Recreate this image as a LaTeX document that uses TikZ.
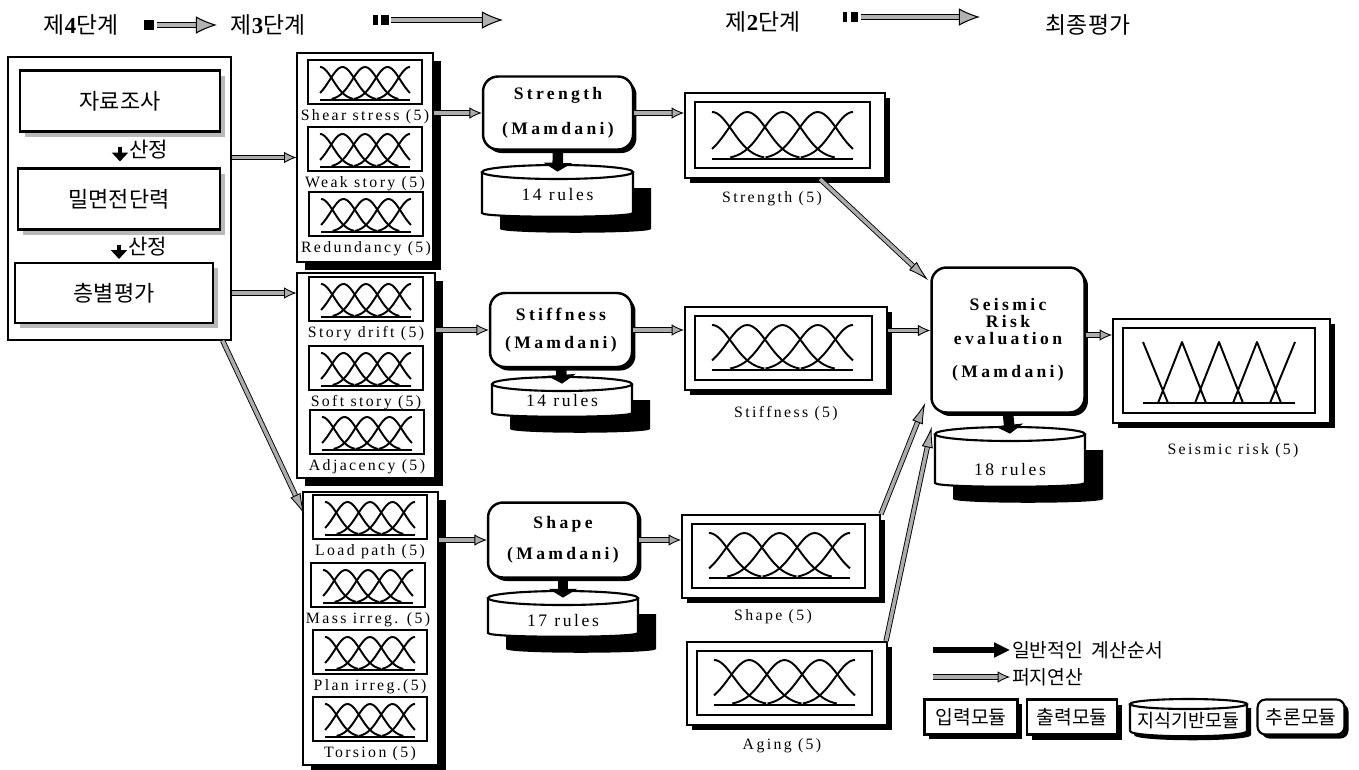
\documentclass[tikz,border=0pt]{standalone}
\usepackage{fontspec}
\setmainfont{Liberation Serif}
\newfontfamily\kr{Noto Sans CJK KR}
\newfontfamily\spaced[LetterSpace=15]{Liberation Serif}
\newfontfamily\spacedbf[LetterSpace=19]{Liberation Serif}
\usetikzlibrary{arrows.meta, positioning, fit, shadows}

% five bell-shaped membership functions with a base line
\newcommand{\bells}[4]{%
  \pgfmathsetmacro{\mfl}{#1}%
  \pgfmathsetmacro{\mfr}{#2}%
  \pgfmathsetmacro{\mft}{#3}%
  \pgfmathsetmacro{\mfb}{#4}%
  \pgfmathsetmacro{\mfw}{(\mfr-\mfl)/4}%
  \pgfmathsetmacro{\mfs}{0.57*\mfw}%
  \draw[curve] (\mfl,\mfb) -- (\mfr,\mfb);
  \foreach \k in {0,...,4}{%
    \pgfmathsetmacro{\mfc}{\mfl+\k*\mfw}%
    \pgfmathsetmacro{\mflo}{max(\mfl,\mfc-2.6*\mfs)}%
    \pgfmathsetmacro{\mfhi}{min(\mfr,\mfc+2.6*\mfs)}%
    \draw[curve] plot[domain=\mflo:\mfhi, samples=31, smooth]
      (\x, {\mfb-(\mfb-\mft)*exp(-0.5*(\x-\mfc)*(\x-\mfc)/(\mfs*\mfs))});
  }%
}

% small input panel of stage 3 with its label
\newcommand{\minipanel}[4]{%
  \node[mini] (#1) at (#2,#3) {};
  \bells{#2-45}{#2+45}{#3-15}{#3+18}
  \node[lbl, below=1.5pt of #1] (#1l) {#4};
}

% output panel with inner frame
\newcommand{\outpanel}[5]{%
  \node[outframe, fit={(#2,#3) (#4,#5)}] (#1) {};
  \draw[line width=0.8pt] (#2+10,#3+9) rectangle (#4-15,#5-10);
}

% rule base drawn as a drum
\newcommand{\rulebase}[7]{%
  \pgfmathsetmacro{\rbm}{(#2+#3)/2}%
  \pgfmathsetmacro{\rbr}{(#3-#2)/2}%
  \fill[black, shift={(18,16)}] (#2,#4) -- (#2,#5) .. controls (#2,#5+5) and (#3,#5+5) .. (#3,#5) -- (#3,#4) -- cycle;
  \filldraw[fill=white, line width=1.2pt] (#2,#4) -- (#2,#5) .. controls (#2,#5+5) and (#3,#5+5) .. (#3,#5) -- (#3,#4);
  \draw[line width=1.2pt, fill=white] (\rbm,#4) ellipse [x radius=\rbr, y radius=7];
  \node[inner sep=0pt, fit={(#2,#4-7) (#3,#5)}] (#1) {};
  \node[rulefont] (#1t) at (\rbm,#7) {#6};
}

\begin{document}
\begin{tikzpicture}[
    x=0.02cm, y=-0.02cm,
    korean/.style={font=\kr\fontsize{12.5}{15}\selectfont},
    stage/.style={font=\kr\fontsize{13}{15}\selectfont, inner sep=0pt},
    stepbox/.style={draw, line width=1.2pt, fill=white, inner sep=0pt, minimum height=1.22cm, korean,
      drop shadow={shadow xshift=0.1cm, shadow yshift=-0.1cm, fill=gray!55, opacity=1}},
    stageframe/.style={draw, line width=0.7pt, inner sep=0pt},
    group/.style={stageframe, fill=white,
      drop shadow={shadow xshift=0.16cm, shadow yshift=-0.16cm, fill=black, opacity=1}},
    mini/.style={draw, line width=1.1pt, fill=white, minimum width=2.28cm, minimum height=0.88cm, inner sep=0pt},
    lbl/.style={font=\spaced\fontsize{9}{10}\selectfont, inner sep=1pt},
    engine/.style={draw, line width=1.4pt, rounded corners=0.3cm, fill=white, align=center, inner sep=0pt,
      font=\spacedbf\bfseries\fontsize{10}{12}\selectfont,
      drop shadow={shadow xshift=0.07cm, shadow yshift=-0.07cm, fill=black, opacity=1}},
    rulefont/.style={font=\spaced\fontsize{10}{12}\selectfont, inner sep=0pt},
    outframe/.style={draw, line width=1.2pt, fill=white, inner sep=0pt,
      drop shadow={shadow xshift=0.1cm, shadow yshift=-0.1cm, fill=black, opacity=1}},
    curve/.style={line width=1.1pt, line join=round},
    fuzzy/.style={draw=black, line width=0.5pt, double=gray!65, double distance=2pt,
      -{Latex[length=7pt,width=6.5pt,fill=gray!65]}},
    fuzzylong/.style={fuzzy, -{Latex[length=12pt,width=6.5pt,fill=gray!65]}},
    headarrow/.style={draw=black, line width=0.6pt, double=gray!60, double distance=2.6pt,
      -{Latex[length=12pt,width=10pt,fill=gray!60]}},
    flow/.style={line width=6pt, -{Triangle[length=5pt,width=16pt]}},
    downstep/.style={line width=2.8pt, -{Triangle[length=5pt,width=9pt]}},
    legflow/.style={line width=3.5pt, -{Triangle[length=9pt,width=8pt]}},
    legend/.style={font=\kr\fontsize{11}{13}\selectfont, inner sep=1pt},
    legbox/.style={draw, line width=1.2pt, fill=white, minimum height=0.7cm, inner sep=0pt, legend,
      drop shadow={shadow xshift=0.08cm, shadow yshift=-0.08cm, fill=black, opacity=1}}
]
\useasboundingbox (0,0) rectangle (1359,769);

% Stage headings
\node[stage] (h4) at (81,25) {제{\rmfamily\bfseries 4}단계};
\node[stage] (h3) at (268,25) {제{\rmfamily\bfseries 3}단계};
\node[stage] (h2) at (763,22) {제{\rmfamily\bfseries 2}단계};
\node[stage] (hf) at (1088,25) {최종평가};

\coordinate (a1s) at (157,25); \coordinate (a1e) at (217,25);
\coordinate (a2s) at (391,20); \coordinate (a2e) at (503,20);
\coordinate (a3s) at (861,17); \coordinate (a3e) at (980,17);
\fill (144,20) rectangle (154,30);
\fill (373,15) rectangle (378,25);
\fill (381,15) rectangle (389,25);
\fill (843,12) rectangle (847,22);
\fill (851,12) rectangle (858,22);
\draw[headarrow] (a1s) -- (a1e);
\draw[headarrow] (a2s) -- (a2e);
\draw[headarrow] (a3s) -- (a3e);

% Stage 4
\node[stageframe, fit={(8,57) (231,340)}] (L) {};
\node[stepbox, minimum width=4cm] (B1) at (120,101) {자료조사};
\node[stepbox, minimum width=4.04cm] (B2) at (119,199) {밀면전단력};
\node[stepbox, minimum width=3.96cm, minimum height=1.2cm] (B3) at (114,293) {층별평가};
\draw[downstep, shorten <=0.28cm, shorten >=0.12cm] (B1.south) -- (B1.south |- B2.north)
  node[midway, right=0.14cm, inner sep=0pt, font=\kr\fontsize{12}{14}\selectfont] (s1) {산정};
\draw[downstep, shorten <=0.28cm, shorten >=0.06cm] (B2.south) -- (B2.south |- B3.north)
  node[midway, right=0.14cm, inner sep=0pt, font=\kr\fontsize{12}{14}\selectfont] (s2) {산정};

% Stage 3 inputs
\node[group, fit={(297,53) (433,262)}] (G1) {};
\node[group, fit={(297,273) (435,478)}] (G2) {};
\node[group, fit={(303,492) (438,765)}] (G3) {};

\minipanel{shear}{365}{82}{Shear stress (5)}
\minipanel{weak}{365}{149}{Weak story (5)}
\minipanel{redund}{366}{214}{Redundancy (5)}
\minipanel{drift}{366}{299}{Story drift (5)}
\minipanel{soft}{366}{368}{Soft story (5)}
\minipanel{adjac}{367}{432}{Adjacency (5)}
\minipanel{loadp}{370}{517}{Load path (5)}
\minipanel{massi}{368}{585}{Mass irreg. (5)}
\minipanel{plani}{370}{652}{Plan irreg.(5)}
\minipanel{tors}{370}{719}{Torsion (5)}

\draw[fuzzy] (L.east |- G1.west) -- (G1.west);
\draw[fuzzy] (L.east |- B3.east) -- (G2.west |- B3.east);
\draw[fuzzylong] ([xshift=-0.18cm]L.south east) -- ([shift={(2,23)}]G3.north west);

% Inference engines and rule bases
\node[engine, minimum width=3cm, minimum height=1.46cm] (M1) at (558,113) {Strength\\[8pt](Mamdani)};
\node[engine, minimum width=2.84cm, minimum height=1.48cm] (M2) at (561,330) {Stiffness\\[4pt](Mamdani)};
\node[engine, minimum width=3cm, minimum height=1.5cm] (M3) at (563,540) {Shape\\[5.5pt](Mamdani)};

\rulebase{R1}{482}{633}{172}{213}{14 rules}{194}
\rulebase{R2}{492}{632}{384}{413}{14 rules}{400}
\rulebase{R3}{488}{638}{598}{633}{17 rules}{620}

\draw[flow] (M1.south) -- ([yshift=-0.14cm]R1.north);
\draw[flow] (M2.south) -- ([yshift=-0.14cm]R2.north);
\draw[flow] (M3.south) -- ([yshift=-0.14cm]R3.north);

\draw[fuzzy] (G1.east |- M1.west) -- (M1.west);
\draw[fuzzy] (G2.east |- M2.west) -- (M2.west);
\draw[fuzzy] (G3.east |- M3.west) -- (M3.west);

% Stage 2 outputs
\outpanel{S5}{685}{93}{885}{178}
\bells{712}{853}{112}{159}
\outpanel{T5}{685}{307}{887}{390}
\bells{712}{853}{325}{370}
\outpanel{P5}{682}{515}{880}{598}
\bells{709}{850}{533}{578}
\outpanel{A5}{687}{642}{887}{725}
\bells{714}{855}{660}{705}

\node[lbl, below=5.7pt of S5, xshift=-0.26cm] (S5l) {Strength (5)};
\node[lbl, below=7.4pt of T5] (T5l) {Stiffness (5)};
\node[lbl, below=4.5pt of P5, xshift=-0.16cm] (P5l) {Shape (5)};
\node[lbl, below=6pt of A5, xshift=-0.1cm] (A5l) {Aging (5)};

\draw[fuzzy] (M1.east) -- (M1.east -| S5.west);
\draw[fuzzy] (M2.east) -- (M2.east -| T5.west);
\draw[fuzzy] (M3.east) -- (M3.east -| P5.west);

% Final evaluation
\node[engine, minimum width=3.06cm, minimum height=2.9cm, font=\spacedbf\bfseries\fontsize{10}{9.6}\selectfont] (MS) at (1008,340)
  {Seismic\\Risk\\evaluation\\[9.6pt](Mamdani)};
\rulebase{RS}{935}{1085}{434}{483}{18 rules}{469}
\draw[flow] (MS.south) -- ([yshift=-0.14cm]RS.north);

\outpanel{R5}{1113}{319}{1330}{423}
\draw[curve] (1143,342) -- (1168,403)
  (1158,403) -- (1182,342) -- (1206,403)
  (1195,403) -- (1219,342) -- (1243,403)
  (1233,403) -- (1257,342) -- (1281,403)
  (1270,403) -- (1295,342);
\draw[curve] (1143,403) -- (1295,403);
\node[lbl, below=10pt of R5, xshift=0.23cm] (R5l) {Seismic risk (5)};

\draw[fuzzylong] ([xshift=0.7cm]S5.south) -- ([shift={(-2,14)}]MS.north west);
\draw[fuzzy] ([yshift=0.36cm]T5.east) -- ([yshift=0.36cm]T5.east -| MS.west);
\draw[fuzzylong] (P5.north east) -- ([shift={(-5,-11)}]MS.south west);
\draw[fuzzylong] ([xshift=-0.04cm]A5.north east) -- ([xshift=-0.06cm]RS.north west);
\draw[fuzzy] ([yshift=0.1cm]MS.east) -- ([yshift=0.1cm]MS.east -| R5.west);

% Legend
\coordinate (lg1) at (933,650);
\node[legend, anchor=west] (lt1) at (1010,650) {일반적인~~계산순서};
\draw[legflow] (lg1) -- (lt1.west);
\coordinate (lg2) at (933,677);
\node[legend, anchor=west] (lt2) at (1010,677) {퍼지연산};
\draw[fuzzy] (lg2) -- (lt2.west);

\node[legbox, minimum width=1.86cm] (k1) at (971,717) {입력모듈};
\node[outframe, legend, minimum width=1.8cm, minimum height=0.7cm] (k2) at (1072,717) {출력모듈};
\fill[black, shift={(4,4)}] (1130,704) -- (1130,731) .. controls (1130,738) and (1247,738) .. (1247,731) -- (1247,704) -- cycle;
\filldraw[fill=white, line width=1.2pt] (1130,704) -- (1130,731) .. controls (1130,738) and (1247,738) .. (1247,731) -- (1247,704);
\draw[line width=1.2pt, fill=white] (1188.5,704) ellipse [x radius=58.5, y radius=5];
\node[legend, font=\kr\fontsize{10.5}{12}\selectfont] (k3) at (1188.5,721) {지식기반모듈};
\node[legbox, rounded corners=0.16cm, minimum width=1.74cm] (k4) at (1301,717) {추론모듈};

\end{tikzpicture}
\end{document}
